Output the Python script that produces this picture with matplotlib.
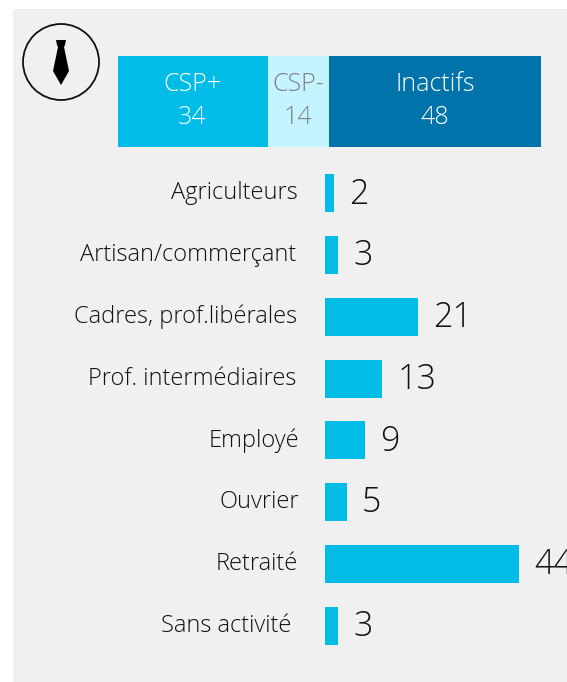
import matplotlib
matplotlib.use('Agg')
import matplotlib.pyplot as plt
from matplotlib.patches import Circle, Polygon

# --- data ---
groupes = ['CSP+', 'CSP-', 'Inactifs']
groupes_val = [34, 14, 48]
categories = ['Agriculteurs', 'Artisan/commerçant', 'Cadres, prof.libérales',
              'Prof. intermédiaires', 'Employé', 'Ouvrier', 'Retraité', 'Sans activité']
valeurs = [2, 3, 21, 13, 9, 5, 44, 3]

# --- style ---
W, H = 567, 682
BLEU = '#00BCE6'
CLAIR = '#C4F4FF'
FONCE = '#0073AB'
FOND = '#F0F0F0'
GRIS = '#808080'
PX = 72 / 100  # 1 px en points
couleurs = [BLEU, CLAIR, FONCE]
couleurs_txt = ['white', GRIS, 'white']
label_droite = [298, 296, 297, 296, 299, 299, 298, 291]

plt.rcParams['font.family'] = ['Open Sans', 'DejaVu Sans']

fig = plt.figure(figsize=(W / 100, H / 100), dpi=100, facecolor='white')


def axes_px(x0, y0, x1, y1):
    # axes placé en pixels image (origine en haut à gauche)
    ax = fig.add_axes([x0 / W, 1 - y1 / H, (x1 - x0) / W, (y1 - y0) / H])
    ax.axis('off')
    return ax


# fond + icône (repère pixel)
bg = axes_px(0, 0, W, H)
bg.set_xlim(0, W)
bg.set_ylim(H, 0)
bg.add_patch(plt.Rectangle((13, 9), W - 13, H - 9, color=FOND, lw=0))
bg.add_patch(Circle((61, 62), 38, fc='none', ec='#111111', lw=1.3))
bg.add_patch(Polygon([(56, 40), (66, 40), (65, 45), (64, 47), (69, 71), (61, 85),
                      (53, 71), (58, 47), (57, 45)], fc='black', ec='none'))

# barre empilée du haut
top = axes_px(117.6, 56, 541, 147)
top.set_xlim(0, sum(groupes_val))
top.set_ylim(0, 1)
left = 0
for nom, v, c, ct in zip(groupes, groupes_val, couleurs, couleurs_txt):
    top.barh(0.5, v, left=left, height=1, color=c, lw=0)
    top.text(left + v / 2, 0.69, nom, ha='center', va='center', color=ct, fontsize=25 * PX, fontweight='light')
    top.text(left + v / 2, 0.32, str(v), ha='center', va='center', color=ct, fontsize=25 * PX, fontweight='light')
    left += v

# barres horizontales
ax = axes_px(325, 162.5, 325.5 + 423 * 60 / 96, 656.5)
ax.set_xlim(0, 60)
ax.set_ylim(len(valeurs) - 0.5, -0.5)
ax.barh(range(len(valeurs)), valeurs, height=0.615, color=BLEU, lw=0)
for i, v in enumerate(valeurs):
    ax.annotate(str(v), (v, i), xytext=(15 * PX, -1 * PX), textcoords='offset points',
                ha='left', va='center', fontsize=34 * PX, fontweight='light',
                color='#111111', annotation_clip=False)
    y_px = 162 + (i + 0.5) * (656 - 162) / len(valeurs)
    bg.text(label_droite[i], y_px + 0.5, categories[i], ha='right', va='center',
            fontsize=23.6 * PX, fontweight='light', color='#111111')

fig.savefig('out.png', dpi=100)
